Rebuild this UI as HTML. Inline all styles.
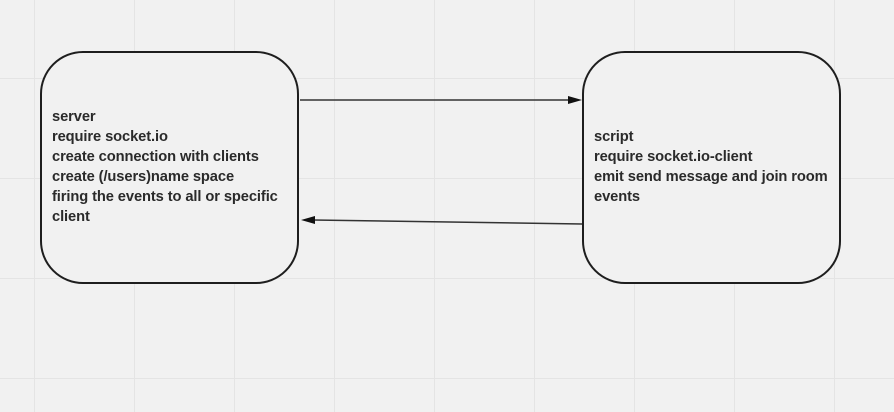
<!DOCTYPE html>
<html><head><meta charset="utf-8"><style>
html,body{margin:0;padding:0;background:#f1f1f1;}
body{width:894px;height:412px;overflow:hidden;position:relative;font-family:"Liberation Sans",sans-serif;}
.t{position:absolute;font-size:14.7px;font-weight:bold;color:#2a2a2a;line-height:20px;letter-spacing:-0.1px;}
</style></head><body>
<svg width="894" height="412" style="position:absolute;left:0;top:0">
<g stroke="#e4e4e4" stroke-width="1">
<line x1="34.5" y1="0" x2="34.5" y2="412"/><line x1="134.5" y1="0" x2="134.5" y2="412"/>
<line x1="234.5" y1="0" x2="234.5" y2="412"/><line x1="334.5" y1="0" x2="334.5" y2="412"/>
<line x1="434.5" y1="0" x2="434.5" y2="412"/><line x1="534.5" y1="0" x2="534.5" y2="412"/>
<line x1="634.5" y1="0" x2="634.5" y2="412"/><line x1="734.5" y1="0" x2="734.5" y2="412"/>
<line x1="834.5" y1="0" x2="834.5" y2="412"/>
<line x1="0" y1="78.5" x2="894" y2="78.5"/><line x1="0" y1="178.5" x2="894" y2="178.5"/>
<line x1="0" y1="278.5" x2="894" y2="278.5"/><line x1="0" y1="378.5" x2="894" y2="378.5"/>
</g>
<rect x="41" y="52" width="257" height="231" rx="42" fill="#f1f1f1" stroke="#1e1e1e" stroke-width="2"/>
<rect x="583" y="52" width="257" height="231" rx="42" fill="#f1f1f1" stroke="#1e1e1e" stroke-width="2"/>
<line x1="300" y1="100" x2="570" y2="100" stroke="#333" stroke-width="1.5"/>
<polygon points="582,100 568,96 568,104" fill="#111"/>
<line x1="582" y1="224" x2="313" y2="220" stroke="#333" stroke-width="1.5"/>
<polygon points="301,220 315,216 315,224" fill="#111"/>
</svg>
<div class="t" style="left:52px;top:107px">server<br>require socket.io<br>create connection with clients<br>create (/users)name space<br>firing the events to all or specific<br>client</div>
<div class="t" style="left:594px;top:127px">script<br>require socket.io-client<br>emit send message and join room<br>events</div>
</body></html>
